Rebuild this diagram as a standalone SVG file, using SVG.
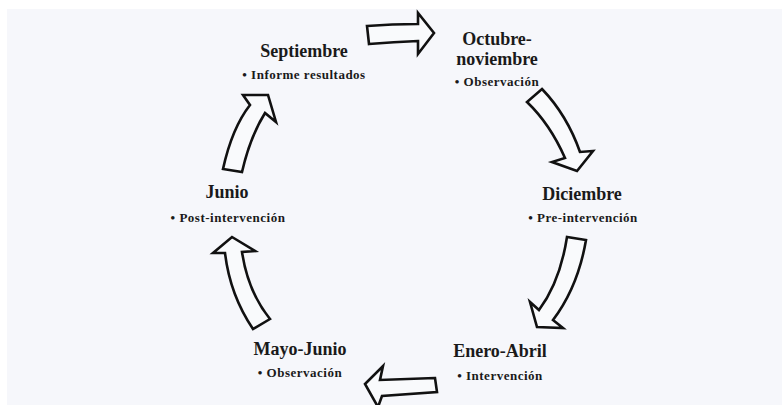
<svg xmlns="http://www.w3.org/2000/svg" width="782" height="405" viewBox="0 0 782 405">
<style>
.t{font-family:"Liberation Serif","Times New Roman",serif;font-weight:bold;font-size:18px;fill:#1a1a1a;text-anchor:middle}
.s{font-family:"Liberation Serif","Times New Roman",serif;font-weight:bold;font-size:13px;letter-spacing:0.5px;fill:#1a1a1a;text-anchor:middle}
.a{fill:#f9fafc;stroke:#111;stroke-width:2.6;stroke-linejoin:miter}
</style>
<rect x="0" y="0" width="782" height="405" fill="#ffffff"/>
<rect x="7" y="9" width="775" height="396" fill="#f6f7fb"/>
<g id="connectors">
<path class="a" d="M367,26 Q392,24 418,24 L418,13 L434,33 L418,54 L418,41 Q394,42 369,44 Z"/>
<path class="a" d="M527,102 Q550,124 565,158 L552,162 L577,171 L593,151 L580,152 Q567,115 542,89 Z"/>
<path class="a" d="M567,237 Q560,282 539,310 L530,302 L537,327 L563,328 L553,320 Q578,287 586,240 Z"/>
<path class="a" d="M435,378 Q408,379 380,380 L383,366 L365,384 L378,407 L382,396 Q410,394 437,392 Z"/>
<path class="a" d="M232,237 L255,251 L242,252 Q248,292 270,319 L253,329 Q230,295 225,253 L213,253 Z"/>
<path class="a" d="M223,169 Q232,128 250,105 L243,95 L268,95 L276,122 L265,113 Q250,137 242,172 Z"/>
</g>
<g id="septiembre">
<text class="t" x="304" y="57">Septiembre</text>
<text class="s" x="304" y="79">• Informe resultados</text>
</g>
<g id="octubre">
<text class="t" x="497" y="45">Octubre-</text>
<text class="t" x="497" y="65">noviembre</text>
<text class="s" x="497" y="86">• Observación</text>
</g>
<g id="diciembre">
<text class="t" x="582" y="200">Diciembre</text>
<text class="s" x="583" y="222">• Pre-intervención</text>
</g>
<g id="enero">
<text class="t" x="500" y="357">Enero-Abril</text>
<text class="s" x="500" y="380">• Intervención</text>
</g>
<g id="mayo">
<text class="t" x="300" y="355">Mayo-Junio</text>
<text class="s" x="300" y="377">• Observación</text>
</g>
<g id="junio">
<text class="t" x="227" y="198">Junio</text>
<text class="s" x="228" y="222">• Post-intervención</text>
</g>
</svg>
